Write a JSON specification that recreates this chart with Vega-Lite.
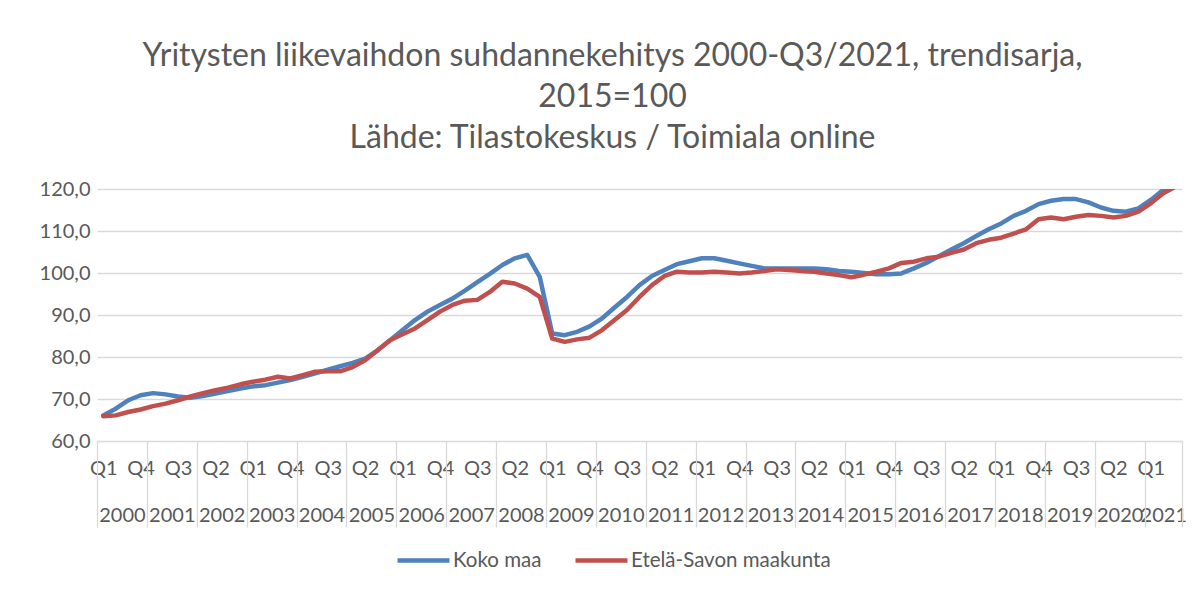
{
  "$schema": "https://vega.github.io/schema/vega-lite/v6.json",
  "width": 1085,
  "height": 252,
  "autosize": {"type": "none"},
  "padding": {"left": 97, "top": 189, "right": 21, "bottom": 148},
  "background": "white",
  "config": {"view": {"stroke": null}, "font": "Lato"},
  "title": {
    "text": ["Yritysten liikevaihdon suhdannekehitys  2000-Q3/2021, trendisarja,", "2015=100", "Lähde: Tilastokeskus / Toimiala online"],
    "font": "Lato",
    "fontSize": 32,
    "fontWeight": "normal",
    "color": "#595959",
    "anchor": "middle",
    "frame": "group",
    "baseline": "bottom",
    "lineHeight": 41,
    "offset": -9,
    "dx": -27
  },
  "data": {
    "values": [
      {"kausi": "2000Q1", "n": 0, "sarja": "Koko maa", "arvo": 66.1},
      {"kausi": "2000Q2", "n": 1, "sarja": "Koko maa", "arvo": 67.7},
      {"kausi": "2000Q3", "n": 2, "sarja": "Koko maa", "arvo": 69.7},
      {"kausi": "2000Q4", "n": 3, "sarja": "Koko maa", "arvo": 70.9},
      {"kausi": "2001Q1", "n": 4, "sarja": "Koko maa", "arvo": 71.4},
      {"kausi": "2001Q2", "n": 5, "sarja": "Koko maa", "arvo": 71.1},
      {"kausi": "2001Q3", "n": 6, "sarja": "Koko maa", "arvo": 70.6},
      {"kausi": "2001Q4", "n": 7, "sarja": "Koko maa", "arvo": 70.3},
      {"kausi": "2002Q1", "n": 8, "sarja": "Koko maa", "arvo": 70.7},
      {"kausi": "2002Q2", "n": 9, "sarja": "Koko maa", "arvo": 71.3},
      {"kausi": "2002Q3", "n": 10, "sarja": "Koko maa", "arvo": 71.9},
      {"kausi": "2002Q4", "n": 11, "sarja": "Koko maa", "arvo": 72.5},
      {"kausi": "2003Q1", "n": 12, "sarja": "Koko maa", "arvo": 73.0},
      {"kausi": "2003Q2", "n": 13, "sarja": "Koko maa", "arvo": 73.3},
      {"kausi": "2003Q3", "n": 14, "sarja": "Koko maa", "arvo": 73.9},
      {"kausi": "2003Q4", "n": 15, "sarja": "Koko maa", "arvo": 74.5},
      {"kausi": "2004Q1", "n": 16, "sarja": "Koko maa", "arvo": 75.3},
      {"kausi": "2004Q2", "n": 17, "sarja": "Koko maa", "arvo": 76.1},
      {"kausi": "2004Q3", "n": 18, "sarja": "Koko maa", "arvo": 77.0},
      {"kausi": "2004Q4", "n": 19, "sarja": "Koko maa", "arvo": 77.8},
      {"kausi": "2005Q1", "n": 20, "sarja": "Koko maa", "arvo": 78.6},
      {"kausi": "2005Q2", "n": 21, "sarja": "Koko maa", "arvo": 79.6},
      {"kausi": "2005Q3", "n": 22, "sarja": "Koko maa", "arvo": 81.6},
      {"kausi": "2005Q4", "n": 23, "sarja": "Koko maa", "arvo": 84.0},
      {"kausi": "2006Q1", "n": 24, "sarja": "Koko maa", "arvo": 86.4},
      {"kausi": "2006Q2", "n": 25, "sarja": "Koko maa", "arvo": 88.8},
      {"kausi": "2006Q3", "n": 26, "sarja": "Koko maa", "arvo": 90.8},
      {"kausi": "2006Q4", "n": 27, "sarja": "Koko maa", "arvo": 92.4},
      {"kausi": "2007Q1", "n": 28, "sarja": "Koko maa", "arvo": 93.9},
      {"kausi": "2007Q2", "n": 29, "sarja": "Koko maa", "arvo": 95.8},
      {"kausi": "2007Q3", "n": 30, "sarja": "Koko maa", "arvo": 97.8},
      {"kausi": "2007Q4", "n": 31, "sarja": "Koko maa", "arvo": 99.8},
      {"kausi": "2008Q1", "n": 32, "sarja": "Koko maa", "arvo": 101.9},
      {"kausi": "2008Q2", "n": 33, "sarja": "Koko maa", "arvo": 103.5},
      {"kausi": "2008Q3", "n": 34, "sarja": "Koko maa", "arvo": 104.3},
      {"kausi": "2008Q4", "n": 35, "sarja": "Koko maa", "arvo": 99.1},
      {"kausi": "2009Q1", "n": 36, "sarja": "Koko maa", "arvo": 85.6},
      {"kausi": "2009Q2", "n": 37, "sarja": "Koko maa", "arvo": 85.2},
      {"kausi": "2009Q3", "n": 38, "sarja": "Koko maa", "arvo": 86.0},
      {"kausi": "2009Q4", "n": 39, "sarja": "Koko maa", "arvo": 87.3},
      {"kausi": "2010Q1", "n": 40, "sarja": "Koko maa", "arvo": 89.2},
      {"kausi": "2010Q2", "n": 41, "sarja": "Koko maa", "arvo": 91.8},
      {"kausi": "2010Q3", "n": 42, "sarja": "Koko maa", "arvo": 94.3},
      {"kausi": "2010Q4", "n": 43, "sarja": "Koko maa", "arvo": 97.1},
      {"kausi": "2011Q1", "n": 44, "sarja": "Koko maa", "arvo": 99.3},
      {"kausi": "2011Q2", "n": 45, "sarja": "Koko maa", "arvo": 100.7},
      {"kausi": "2011Q3", "n": 46, "sarja": "Koko maa", "arvo": 102.1},
      {"kausi": "2011Q4", "n": 47, "sarja": "Koko maa", "arvo": 102.8},
      {"kausi": "2012Q1", "n": 48, "sarja": "Koko maa", "arvo": 103.5},
      {"kausi": "2012Q2", "n": 49, "sarja": "Koko maa", "arvo": 103.5},
      {"kausi": "2012Q3", "n": 50, "sarja": "Koko maa", "arvo": 102.9},
      {"kausi": "2012Q4", "n": 51, "sarja": "Koko maa", "arvo": 102.3},
      {"kausi": "2013Q1", "n": 52, "sarja": "Koko maa", "arvo": 101.7},
      {"kausi": "2013Q2", "n": 53, "sarja": "Koko maa", "arvo": 101.1},
      {"kausi": "2013Q3", "n": 54, "sarja": "Koko maa", "arvo": 101.1},
      {"kausi": "2013Q4", "n": 55, "sarja": "Koko maa", "arvo": 101.1},
      {"kausi": "2014Q1", "n": 56, "sarja": "Koko maa", "arvo": 101.1},
      {"kausi": "2014Q2", "n": 57, "sarja": "Koko maa", "arvo": 101.1},
      {"kausi": "2014Q3", "n": 58, "sarja": "Koko maa", "arvo": 100.9},
      {"kausi": "2014Q4", "n": 59, "sarja": "Koko maa", "arvo": 100.5},
      {"kausi": "2015Q1", "n": 60, "sarja": "Koko maa", "arvo": 100.3},
      {"kausi": "2015Q2", "n": 61, "sarja": "Koko maa", "arvo": 100.0},
      {"kausi": "2015Q3", "n": 62, "sarja": "Koko maa", "arvo": 99.7},
      {"kausi": "2015Q4", "n": 63, "sarja": "Koko maa", "arvo": 99.7},
      {"kausi": "2016Q1", "n": 64, "sarja": "Koko maa", "arvo": 99.9},
      {"kausi": "2016Q2", "n": 65, "sarja": "Koko maa", "arvo": 101.1},
      {"kausi": "2016Q3", "n": 66, "sarja": "Koko maa", "arvo": 102.4},
      {"kausi": "2016Q4", "n": 67, "sarja": "Koko maa", "arvo": 104.0},
      {"kausi": "2017Q1", "n": 68, "sarja": "Koko maa", "arvo": 105.6},
      {"kausi": "2017Q2", "n": 69, "sarja": "Koko maa", "arvo": 107.1},
      {"kausi": "2017Q3", "n": 70, "sarja": "Koko maa", "arvo": 108.8},
      {"kausi": "2017Q4", "n": 71, "sarja": "Koko maa", "arvo": 110.4},
      {"kausi": "2018Q1", "n": 72, "sarja": "Koko maa", "arvo": 111.8},
      {"kausi": "2018Q2", "n": 73, "sarja": "Koko maa", "arvo": 113.6},
      {"kausi": "2018Q3", "n": 74, "sarja": "Koko maa", "arvo": 114.8},
      {"kausi": "2018Q4", "n": 75, "sarja": "Koko maa", "arvo": 116.4},
      {"kausi": "2019Q1", "n": 76, "sarja": "Koko maa", "arvo": 117.2},
      {"kausi": "2019Q2", "n": 77, "sarja": "Koko maa", "arvo": 117.6},
      {"kausi": "2019Q3", "n": 78, "sarja": "Koko maa", "arvo": 117.6},
      {"kausi": "2019Q4", "n": 79, "sarja": "Koko maa", "arvo": 116.8},
      {"kausi": "2020Q1", "n": 80, "sarja": "Koko maa", "arvo": 115.6},
      {"kausi": "2020Q2", "n": 81, "sarja": "Koko maa", "arvo": 114.8},
      {"kausi": "2020Q3", "n": 82, "sarja": "Koko maa", "arvo": 114.6},
      {"kausi": "2020Q4", "n": 83, "sarja": "Koko maa", "arvo": 115.4},
      {"kausi": "2021Q1", "n": 84, "sarja": "Koko maa", "arvo": 117.4},
      {"kausi": "2021Q2", "n": 85, "sarja": "Koko maa", "arvo": 119.8},
      {"kausi": "2021Q3", "n": 86, "sarja": "Koko maa", "arvo": 122.0},
      {"kausi": "2000Q1", "n": 0, "sarja": "Etelä-Savon maakunta", "arvo": 65.9},
      {"kausi": "2000Q2", "n": 1, "sarja": "Etelä-Savon maakunta", "arvo": 66.1},
      {"kausi": "2000Q3", "n": 2, "sarja": "Etelä-Savon maakunta", "arvo": 66.9},
      {"kausi": "2000Q4", "n": 3, "sarja": "Etelä-Savon maakunta", "arvo": 67.5},
      {"kausi": "2001Q1", "n": 4, "sarja": "Etelä-Savon maakunta", "arvo": 68.3},
      {"kausi": "2001Q2", "n": 5, "sarja": "Etelä-Savon maakunta", "arvo": 68.9},
      {"kausi": "2001Q3", "n": 6, "sarja": "Etelä-Savon maakunta", "arvo": 69.7},
      {"kausi": "2001Q4", "n": 7, "sarja": "Etelä-Savon maakunta", "arvo": 70.6},
      {"kausi": "2002Q1", "n": 8, "sarja": "Etelä-Savon maakunta", "arvo": 71.4},
      {"kausi": "2002Q2", "n": 9, "sarja": "Etelä-Savon maakunta", "arvo": 72.1},
      {"kausi": "2002Q3", "n": 10, "sarja": "Etelä-Savon maakunta", "arvo": 72.7},
      {"kausi": "2002Q4", "n": 11, "sarja": "Etelä-Savon maakunta", "arvo": 73.5},
      {"kausi": "2003Q1", "n": 12, "sarja": "Etelä-Savon maakunta", "arvo": 74.1},
      {"kausi": "2003Q2", "n": 13, "sarja": "Etelä-Savon maakunta", "arvo": 74.6},
      {"kausi": "2003Q3", "n": 14, "sarja": "Etelä-Savon maakunta", "arvo": 75.3},
      {"kausi": "2003Q4", "n": 15, "sarja": "Etelä-Savon maakunta", "arvo": 74.9},
      {"kausi": "2004Q1", "n": 16, "sarja": "Etelä-Savon maakunta", "arvo": 75.7},
      {"kausi": "2004Q2", "n": 17, "sarja": "Etelä-Savon maakunta", "arvo": 76.5},
      {"kausi": "2004Q3", "n": 18, "sarja": "Etelä-Savon maakunta", "arvo": 76.6},
      {"kausi": "2004Q4", "n": 19, "sarja": "Etelä-Savon maakunta", "arvo": 76.6},
      {"kausi": "2005Q1", "n": 20, "sarja": "Etelä-Savon maakunta", "arvo": 77.6},
      {"kausi": "2005Q2", "n": 21, "sarja": "Etelä-Savon maakunta", "arvo": 79.2},
      {"kausi": "2005Q3", "n": 22, "sarja": "Etelä-Savon maakunta", "arvo": 81.6},
      {"kausi": "2005Q4", "n": 23, "sarja": "Etelä-Savon maakunta", "arvo": 84.0},
      {"kausi": "2006Q1", "n": 24, "sarja": "Etelä-Savon maakunta", "arvo": 85.4},
      {"kausi": "2006Q2", "n": 25, "sarja": "Etelä-Savon maakunta", "arvo": 86.8},
      {"kausi": "2006Q3", "n": 26, "sarja": "Etelä-Savon maakunta", "arvo": 88.8},
      {"kausi": "2006Q4", "n": 27, "sarja": "Etelä-Savon maakunta", "arvo": 90.8},
      {"kausi": "2007Q1", "n": 28, "sarja": "Etelä-Savon maakunta", "arvo": 92.4},
      {"kausi": "2007Q2", "n": 29, "sarja": "Etelä-Savon maakunta", "arvo": 93.4},
      {"kausi": "2007Q3", "n": 30, "sarja": "Etelä-Savon maakunta", "arvo": 93.6},
      {"kausi": "2007Q4", "n": 31, "sarja": "Etelä-Savon maakunta", "arvo": 95.5},
      {"kausi": "2008Q1", "n": 32, "sarja": "Etelä-Savon maakunta", "arvo": 97.9},
      {"kausi": "2008Q2", "n": 33, "sarja": "Etelä-Savon maakunta", "arvo": 97.5},
      {"kausi": "2008Q3", "n": 34, "sarja": "Etelä-Savon maakunta", "arvo": 96.3},
      {"kausi": "2008Q4", "n": 35, "sarja": "Etelä-Savon maakunta", "arvo": 94.3},
      {"kausi": "2009Q1", "n": 36, "sarja": "Etelä-Savon maakunta", "arvo": 84.4},
      {"kausi": "2009Q2", "n": 37, "sarja": "Etelä-Savon maakunta", "arvo": 83.6},
      {"kausi": "2009Q3", "n": 38, "sarja": "Etelä-Savon maakunta", "arvo": 84.2},
      {"kausi": "2009Q4", "n": 39, "sarja": "Etelä-Savon maakunta", "arvo": 84.6},
      {"kausi": "2010Q1", "n": 40, "sarja": "Etelä-Savon maakunta", "arvo": 86.4},
      {"kausi": "2010Q2", "n": 41, "sarja": "Etelä-Savon maakunta", "arvo": 88.8},
      {"kausi": "2010Q3", "n": 42, "sarja": "Etelä-Savon maakunta", "arvo": 91.2},
      {"kausi": "2010Q4", "n": 43, "sarja": "Etelä-Savon maakunta", "arvo": 94.3},
      {"kausi": "2011Q1", "n": 44, "sarja": "Etelä-Savon maakunta", "arvo": 97.1},
      {"kausi": "2011Q2", "n": 45, "sarja": "Etelä-Savon maakunta", "arvo": 99.3},
      {"kausi": "2011Q3", "n": 46, "sarja": "Etelä-Savon maakunta", "arvo": 100.3},
      {"kausi": "2011Q4", "n": 47, "sarja": "Etelä-Savon maakunta", "arvo": 100.1},
      {"kausi": "2012Q1", "n": 48, "sarja": "Etelä-Savon maakunta", "arvo": 100.1},
      {"kausi": "2012Q2", "n": 49, "sarja": "Etelä-Savon maakunta", "arvo": 100.3},
      {"kausi": "2012Q3", "n": 50, "sarja": "Etelä-Savon maakunta", "arvo": 100.1},
      {"kausi": "2012Q4", "n": 51, "sarja": "Etelä-Savon maakunta", "arvo": 99.9},
      {"kausi": "2013Q1", "n": 52, "sarja": "Etelä-Savon maakunta", "arvo": 100.1},
      {"kausi": "2013Q2", "n": 53, "sarja": "Etelä-Savon maakunta", "arvo": 100.5},
      {"kausi": "2013Q3", "n": 54, "sarja": "Etelä-Savon maakunta", "arvo": 100.9},
      {"kausi": "2013Q4", "n": 55, "sarja": "Etelä-Savon maakunta", "arvo": 100.7},
      {"kausi": "2014Q1", "n": 56, "sarja": "Etelä-Savon maakunta", "arvo": 100.5},
      {"kausi": "2014Q2", "n": 57, "sarja": "Etelä-Savon maakunta", "arvo": 100.3},
      {"kausi": "2014Q3", "n": 58, "sarja": "Etelä-Savon maakunta", "arvo": 99.9},
      {"kausi": "2014Q4", "n": 59, "sarja": "Etelä-Savon maakunta", "arvo": 99.5},
      {"kausi": "2015Q1", "n": 60, "sarja": "Etelä-Savon maakunta", "arvo": 99.0},
      {"kausi": "2015Q2", "n": 61, "sarja": "Etelä-Savon maakunta", "arvo": 99.6},
      {"kausi": "2015Q3", "n": 62, "sarja": "Etelä-Savon maakunta", "arvo": 100.3},
      {"kausi": "2015Q4", "n": 63, "sarja": "Etelä-Savon maakunta", "arvo": 101.1},
      {"kausi": "2016Q1", "n": 64, "sarja": "Etelä-Savon maakunta", "arvo": 102.4},
      {"kausi": "2016Q2", "n": 65, "sarja": "Etelä-Savon maakunta", "arvo": 102.7},
      {"kausi": "2016Q3", "n": 66, "sarja": "Etelä-Savon maakunta", "arvo": 103.5},
      {"kausi": "2016Q4", "n": 67, "sarja": "Etelä-Savon maakunta", "arvo": 103.9},
      {"kausi": "2017Q1", "n": 68, "sarja": "Etelä-Savon maakunta", "arvo": 104.8},
      {"kausi": "2017Q2", "n": 69, "sarja": "Etelä-Savon maakunta", "arvo": 105.6},
      {"kausi": "2017Q3", "n": 70, "sarja": "Etelä-Savon maakunta", "arvo": 107.1},
      {"kausi": "2017Q4", "n": 71, "sarja": "Etelä-Savon maakunta", "arvo": 107.9},
      {"kausi": "2018Q1", "n": 72, "sarja": "Etelä-Savon maakunta", "arvo": 108.4},
      {"kausi": "2018Q2", "n": 73, "sarja": "Etelä-Savon maakunta", "arvo": 109.4},
      {"kausi": "2018Q3", "n": 74, "sarja": "Etelä-Savon maakunta", "arvo": 110.4},
      {"kausi": "2018Q4", "n": 75, "sarja": "Etelä-Savon maakunta", "arvo": 112.8},
      {"kausi": "2019Q1", "n": 76, "sarja": "Etelä-Savon maakunta", "arvo": 113.2},
      {"kausi": "2019Q2", "n": 77, "sarja": "Etelä-Savon maakunta", "arvo": 112.8},
      {"kausi": "2019Q3", "n": 78, "sarja": "Etelä-Savon maakunta", "arvo": 113.4},
      {"kausi": "2019Q4", "n": 79, "sarja": "Etelä-Savon maakunta", "arvo": 113.8},
      {"kausi": "2020Q1", "n": 80, "sarja": "Etelä-Savon maakunta", "arvo": 113.6},
      {"kausi": "2020Q2", "n": 81, "sarja": "Etelä-Savon maakunta", "arvo": 113.2},
      {"kausi": "2020Q3", "n": 82, "sarja": "Etelä-Savon maakunta", "arvo": 113.6},
      {"kausi": "2020Q4", "n": 83, "sarja": "Etelä-Savon maakunta", "arvo": 114.6},
      {"kausi": "2021Q1", "n": 84, "sarja": "Etelä-Savon maakunta", "arvo": 116.6},
      {"kausi": "2021Q2", "n": 85, "sarja": "Etelä-Savon maakunta", "arvo": 119.0},
      {"kausi": "2021Q3", "n": 86, "sarja": "Etelä-Savon maakunta", "arvo": 120.6}
    ]
  },
  "layer": [
    {
      "mark": {"type": "line", "strokeWidth": 4.5, "strokeJoin": "round", "strokeCap": "round", "clip": true},
      "encoding": {
        "x": {
          "field": "n", "type": "quantitative",
          "scale": {"domain": [-0.5, 86.5], "nice": false, "zero": false},
          "axis": {
            "values": [0, 3, 6, 9, 12, 15, 18, 21, 24, 27, 30, 33, 36, 39, 42, 45, 48, 51, 54, 57, 60, 63, 66, 69, 72, 75, 78, 81, 84],
            "labelExpr": "'Q' + (datum.value % 4 + 1)",
            "ticks": false, "domain": false, "grid": false, "title": null,
            "labelFont": "Lato", "labelFontSize": 20, "labelColor": "#595959",
            "labelPadding": 17, "labelOverlap": false, "labelFlush": false
          }
        },
        "y": {
          "field": "arvo", "type": "quantitative",
          "scale": {"domain": [60, 120], "nice": false, "zero": false},
          "axis": {
            "values": [60, 70, 80, 90, 100, 110, 120],
            "labelExpr": "replace(format(datum.value, '.1f'), '.', ',')",
            "domain": false, "ticks": false, "title": null,
            "gridColor": "#d9d9d9", "gridWidth": 1.3,
            "labelFont": "Lato", "labelFontSize": 20, "labelColor": "#595959", "labelPadding": 7
          }
        },
        "color": {
          "field": "sarja", "type": "nominal",
          "scale": {"domain": ["Koko maa", "Etelä-Savon maakunta"], "range": ["#4F81BD", "#C0504D"]},
          "legend": {
            "orient": "none", "legendX": 298, "legendY": 343, "direction": "horizontal",
            "title": null, "symbolType": "stroke", "symbolStrokeWidth": 4.5, "symbolSize": 2704,
            "labelFont": "Lato", "labelFontSize": 20.5, "labelColor": "#595959", "labelLimit": 0,
            "columnPadding": 24, "labelOffset": 1, "padding": 0
          }
        }
      }
    },
    {
      "mark": {"type": "point", "opacity": 0},
      "encoding": {
        "x": {
          "field": "n", "type": "quantitative",
          "axis": {
            "orient": "bottom",
            "values": [1.5, 5.5, 9.5, 13.5, 17.5, 21.5, 25.5, 29.5, 33.5, 37.5, 41.5, 45.5, 49.5, 53.5, 57.5, 61.5, 65.5, 69.5, 73.5, 77.5, 81.5, 85],
            "labelExpr": "'' + (floor(datum.value / 4) + 2000)",
            "ticks": false, "domain": false, "grid": false, "title": null,
            "labelFont": "Lato", "labelFontSize": 20, "labelColor": "#595959",
            "labelPadding": 64, "labelOverlap": false, "labelFlush": false
          }
        },
        "y": {"field": "arvo", "type": "quantitative"}
      }
    },
    {
      "mark": {"type": "point", "opacity": 0},
      "encoding": {
        "x": {
          "field": "n", "type": "quantitative",
          "axis": {
            "orient": "bottom",
            "values": [-0.5, 3.5, 7.5, 11.5, 15.5, 19.5, 23.5, 27.5, 31.5, 35.5, 39.5, 43.5, 47.5, 51.5, 55.5, 59.5, 63.5, 67.5, 71.5, 75.5, 79.5, 83.5, 86.5],
            "labels": false, "ticks": true, "tickSize": 86, "tickColor": "#d9d9d9", "tickWidth": 1.3,
            "domain": false, "grid": false, "title": null
          }
        },
        "y": {"field": "arvo", "type": "quantitative"}
      }
    }
  ],
  "resolve": {"axis": {"x": "independent"}}
}
